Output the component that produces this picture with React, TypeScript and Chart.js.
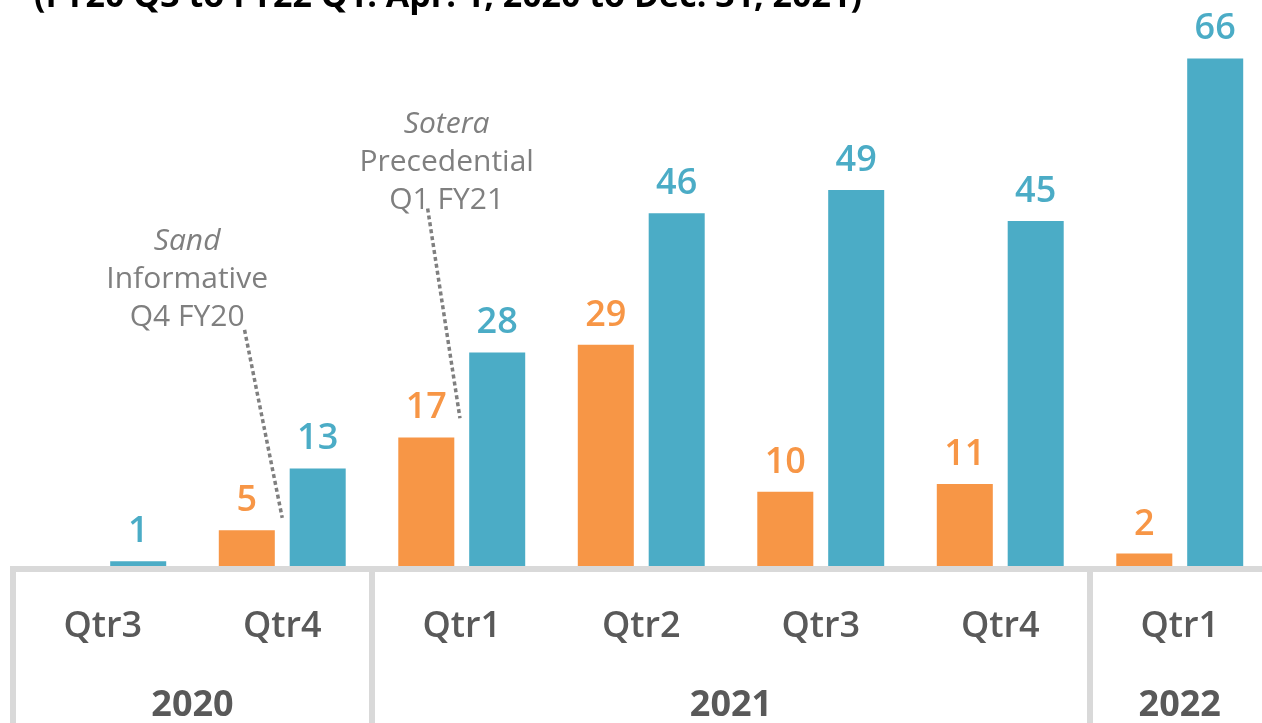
import React, { useEffect, useRef } from "react";
import { Chart, registerables } from "chart.js";

Chart.register(...registerables);

// ---- data ----
const quarterLabels = ["Qtr3", "Qtr4", "Qtr1", "Qtr2", "Qtr3", "Qtr4", "Qtr1"];
const yearLabels = ["2020", "2021", "2022"];
const quartersPerYear = [2, 4, 1];
const orangeValues: (number | null)[] = [null, 5, 17, 29, 10, 11, 2];
const tealValues: number[] = [1, 13, 28, 46, 49, 45, 66];
const titleText = "(FY20 Q3 to FY22 Q1: Apr. 1, 2020 to Dec. 31, 2021)";
const noteTexts = [
  ["Sand", "Informative", "Q4 FY20"],
  ["Sotera", "Precedential", "Q1 FY21"],
];
// annotation anchors in data units (category index, value)
const noteAnchors = [
  { x: 0.47, y: 41.2 },
  { x: 1.916, y: 56.4 },
];
const noteLeaders = [
  { x1: 0.79, y1: 30.9, x2: 1.0, y2: 6.6 },
  { x1: 1.81, y1: 46.6, x2: 1.99, y2: 19.5 },
];

const ORANGE = "#F79646";
const TEAL = "#4BACC6";
const GRID = "#D9D9D9";
const AXIS_TEXT = "#595959";
const NOTE_TEXT = "#7F7F7F";
const FONT = "'Open Sans', 'Noto Sans', sans-serif";

const overlayPlugin = {
  id: "overlay",
  afterDatasetsDraw(chart: any) {
    const ctx = chart.ctx as CanvasRenderingContext2D;
    const xs = chart.scales.x;
    const ys = chart.scales.y;
    const area = chart.chartArea;
    ctx.save();

    // value labels
    chart.data.datasets.forEach((ds: any, di: number) => {
      const meta = chart.getDatasetMeta(di);
      meta.data.forEach((el: any, i: number) => {
        const v = ds.data[i];
        if (v === null || v === undefined) return;
        ctx.font = `600 36px ${FONT}`;
        ctx.fillStyle = ds.backgroundColor;
        ctx.textAlign = "center";
        ctx.textBaseline = "alphabetic";
        ctx.fillText(String(v), el.x, el.y - 19);
      });
    });

    // table lines
    const bottom = chart.height;
    ctx.strokeStyle = GRID;
    ctx.lineWidth = 6;
    ctx.beginPath();
    ctx.moveTo(area.left - 3, area.bottom);
    ctx.lineTo(chart.width, area.bottom);
    ctx.stroke();
    let cum = 0;
    const bounds = [xs.getPixelForValue(-0.5)];
    quartersPerYear.forEach((n) => {
      cum += n;
      bounds.push(xs.getPixelForValue(cum - 0.5));
    });
    bounds.forEach((bx) => {
      ctx.beginPath();
      ctx.moveTo(bx, area.bottom - 3);
      ctx.lineTo(bx, bottom);
      ctx.stroke();
    });

    // quarter labels
    ctx.fillStyle = AXIS_TEXT;
    ctx.textAlign = "center";
    ctx.textBaseline = "alphabetic";
    ctx.font = `600 36px ${FONT}`;
    quarterLabels.forEach((q, i) => {
      ctx.fillText(q, xs.getPixelForValue(i), area.bottom + 68);
    });
    // year labels
    ctx.font = `700 36px ${FONT}`;
    cum = 0;
    yearLabels.forEach((yl, i) => {
      const start = cum;
      cum += quartersPerYear[i];
      const cx = (xs.getPixelForValue(start - 0.5) + xs.getPixelForValue(cum - 0.5)) / 2;
      ctx.fillText(yl, cx, area.bottom + 147);
    });

    // annotations
    noteTexts.forEach((lines, k) => {
      const ax = xs.getPixelForValue(noteAnchors[k].x);
      const ay = ys.getPixelForValue(noteAnchors[k].y);
      ctx.fillStyle = NOTE_TEXT;
      ctx.textAlign = "center";
      lines.forEach((t, li) => {
        ctx.font = li === 0 ? `italic 400 30px ${FONT}` : `400 30px ${FONT}`;
        ctx.fillText(t, ax, ay + li * 38);
      });
      const L = noteLeaders[k];
      ctx.strokeStyle = NOTE_TEXT;
      ctx.lineWidth = 3.5;
      ctx.setLineDash([4, 3]);
      ctx.beginPath();
      ctx.moveTo(xs.getPixelForValue(L.x1), ys.getPixelForValue(L.y1));
      ctx.lineTo(xs.getPixelForValue(L.x2), ys.getPixelForValue(L.y2));
      ctx.stroke();
      ctx.setLineDash([]);
    });

    // title (only bottom part visible in the frame)
    ctx.fillStyle = "#000000";
    ctx.font = `700 34px ${FONT}`;
    ctx.textAlign = "center";
    ctx.fillText(titleText, 448, 47);

    ctx.restore();
  },
};

export default function App() {
  const ref = useRef<HTMLCanvasElement | null>(null);
  useEffect(() => {
    if (!ref.current) return;
    const chart = new Chart(ref.current, {
      type: "bar",
      data: {
        labels: quarterLabels,
        datasets: [
          {
            label: "Orange",
            data: orangeValues,
            backgroundColor: ORANGE,
            categoryPercentage: 0.79,
            barPercentage: 0.79,
          },
          {
            label: "Teal",
            data: tealValues,
            backgroundColor: TEAL,
            categoryPercentage: 0.79,
            barPercentage: 0.79,
          },
        ],
      },
      options: {
        responsive: false,
        animation: false,
        devicePixelRatio: 1,
        layout: { padding: { top: 52, left: 13, right: 20.5, bottom: 0 } },
        plugins: {
          legend: { display: false },
          tooltip: { enabled: false },
          title: { display: false },
        },
        scales: {
          x: {
            grid: { display: false },
            border: { display: false },
            ticks: { display: false },
            afterFit: (scale: any) => {
              scale.height = 191;
            },
          },
          y: {
            display: false,
            min: 0,
            max: 72,
          },
        },
      },
      plugins: [overlayPlugin],
    });
    return () => chart.destroy();
  }, []);

  return (
    <div
      style={{
        position: "fixed",
        left: 0,
        top: 0,
        width: 1262,
        height: 723,
        overflow: "hidden",
        background: "#ffffff",
      }}
    >
      <canvas
        ref={ref}
        width={1290}
        height={800}
        style={{ position: "absolute", left: 0, top: -40, width: 1290, height: 800 }}
      />
    </div>
  );
}
